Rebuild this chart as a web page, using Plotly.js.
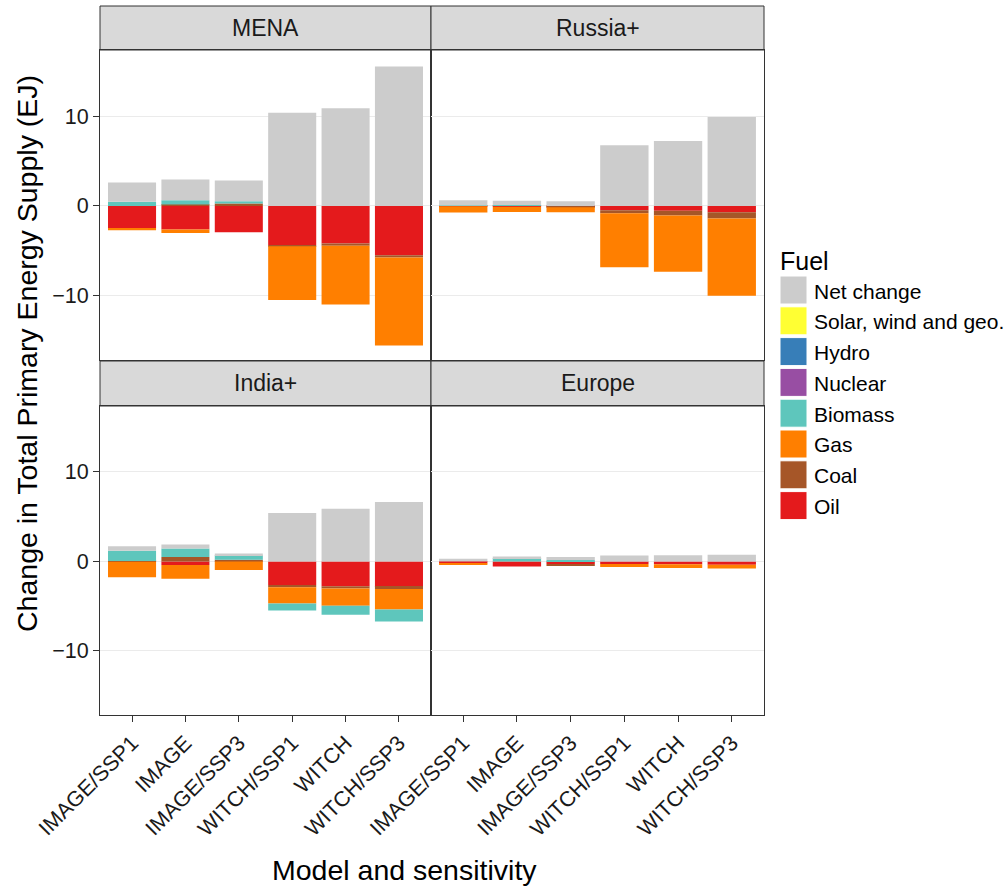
<!DOCTYPE html>
<html>
<head>
<meta charset="utf-8">
<script src="https://cdn.plot.ly/plotly-3.0.1.min.js"></script>
<style>html,body{margin:0;padding:0;background:#fff;}#chart{width:1006px;height:886px;}</style>
</head>
<body>
<div id="chart"></div>
<script>
// ---- Data ----
const models = ['IMAGE/SSP1', 'IMAGE', 'IMAGE/SSP3', 'WITCH/SSP1', 'WITCH', 'WITCH/SSP3'];
const regions = ['MENA', 'Russia+', 'India+', 'Europe'];
const fuels = ['Net change', 'Solar, wind and geo.', 'Hydro', 'Nuclear', 'Biomass', 'Gas', 'Coal', 'Oil'];
const fuelColors = ['#CCCCCC', '#FFFF33', '#377EB8', '#984EA3', '#5EC6BC', '#FF7F00', '#A65628', '#E41A1C'];

const menaOil     = [-2.50, -2.62, -2.92, -4.37, -4.18, -5.48];
const menaCoal    = [0, 0.15, 0.27, -0.13, -0.26, -0.26];
const menaGas     = [-0.22, -0.41, 0, -5.98, -6.52, -9.81];
const menaBiomass = [0.45, 0.48, 0.25, 0, 0, 0];
const menaNet     = [2.15, 2.30, 2.30, 10.38, 10.86, 15.52];

const russiaOil     = [-0.05, -0.10, -0.10, -0.48, -0.55, -0.70];
const russiaCoal    = [0, 0, -0.05, -0.33, -0.52, -0.70];
const russiaGas     = [-0.68, -0.57, -0.55, -6.03, -6.26, -8.60];
const russiaBiomass = [0.05, 0.10, 0, 0, 0, 0];
const russiaNet     = [0.58, 0.46, 0.52, 6.74, 7.22, 9.89];

const indiaOil     = [-0.05, -0.41, 0, -2.63, -2.78, -2.85];
const indiaCoal    = [0.05, 0.48, 0.19, -0.26, -0.26, -0.22];
const indiaGas     = [-1.73, -1.52, -0.96, -1.81, -1.92, -2.30];
const indiaBiomass = [1.14, 0.96, 0.51, -0.78, -1.00, -1.33];
const indiaNet     = [0.51, 0.45, 0.19, 5.41, 5.89, 6.63];

const europeOil     = [-0.20, -0.56, -0.30, -0.30, -0.33, -0.37];
const europeCoal    = [0, 0, -0.18, 0, 0, 0];
const europeGas     = [-0.13, 0, 0, -0.33, -0.41, -0.41];
const europeBiomass = [0, 0.37, 0.15, 0, 0, 0];
const europeNet     = [0.30, 0.19, 0.33, 0.67, 0.70, 0.74];

const yTicks = [-10, 0, 10];

// ---- Build traces ----
const regionData = {
  'MENA':    {'Oil': menaOil, 'Coal': menaCoal, 'Gas': menaGas, 'Biomass': menaBiomass, 'Net change': menaNet},
  'Russia+': {'Oil': russiaOil, 'Coal': russiaCoal, 'Gas': russiaGas, 'Biomass': russiaBiomass, 'Net change': russiaNet},
  'India+':  {'Oil': indiaOil, 'Coal': indiaCoal, 'Gas': indiaGas, 'Biomass': indiaBiomass, 'Net change': indiaNet},
  'Europe':  {'Oil': europeOil, 'Coal': europeCoal, 'Gas': europeGas, 'Biomass': europeBiomass, 'Net change': europeNet}
};
const stackOrder = fuels.slice().reverse(); // Oil first (closest to zero)
const traces = [];
regions.forEach((reg, ri) => {
  const ax = ri === 0 ? '' : String(ri + 1);
  stackOrder.forEach(f => {
    const vals = regionData[reg][f];
    if (!vals) return;
    traces.push({
      type: 'bar', x: models, y: vals, name: f,
      xaxis: 'x' + ax, yaxis: 'y' + ax,
      width: 0.9,
      marker: {color: fuelColors[fuels.indexOf(f)], line: {width: 0}},
      showlegend: false,
      hovertemplate: reg + ' · ' + f + '<br>%{x}: %{y} EJ<extra></extra>'
    });
  });
});

// ---- Layout geometry (pixels -> paper) ----
const W = 1006, H = 886, ML = 100, MR = 242, MT = 6, MB = 171;
const PW = W - ML - MR, PH = H - MT - MB;
const px = v => (v - ML) / PW;
const py = v => (H - MB - v) / PH;

const xd1 = [0, px(431)], xd2 = [px(431), 1];
const yTop = [py(360), py(50)], yBot = [0, py(406)];
const yr = [-17.15, 17.35];
const txtCol = '#1a1a1a';
const fam = 'Liberation Sans, Arial, Helvetica, sans-serif';

function xAxis(domain, anchor, showLabels) {
  return {
    domain: domain, anchor: anchor, type: 'category', range: [-0.6, 5.6],
    showgrid: false, zeroline: false, showline: true, mirror: true,
    linecolor: '#333333', linewidth: 1,
    ticks: showLabels ? 'outside' : '', ticklen: 6, tickcolor: '#333333', tickwidth: 1,
    showticklabels: showLabels, tickangle: -45,
    tickfont: {family: fam, size: 21.5, color: txtCol}
  };
}
function yAxis(domain, anchor, showLabels) {
  return {
    domain: domain, anchor: anchor, range: yr, tickvals: yTicks,
    showgrid: true, gridcolor: '#EBEBEB', gridwidth: 1.3, zeroline: false,
    showline: true, mirror: true, linecolor: '#333333', linewidth: 1,
    ticks: showLabels ? 'outside' : '', ticklen: 6, tickcolor: '#333333', tickwidth: 1,
    showticklabels: showLabels,
    tickfont: {family: fam, size: 21.5, color: txtCol}
  };
}

const shapes = [];
const annotations = [];
// strips
const strips = [
  {x: xd1, y: [py(50), 1]},
  {x: xd2, y: [py(50), 1]},
  {x: xd1, y: [py(406), py(361)]},
  {x: xd2, y: [py(406), py(361)]}
];
strips.forEach((s, i) => {
  shapes.push({type: 'rect', xref: 'paper', yref: 'paper', x0: s.x[0], x1: s.x[1], y0: s.y[0], y1: s.y[1],
    fillcolor: '#D9D9D9', line: {color: '#333333', width: 1}, layer: 'below'});
  annotations.push({xref: 'paper', yref: 'paper', x: (s.x[0] + s.x[1]) / 2, y: (s.y[0] + s.y[1]) / 2,
    text: regions[i], showarrow: false, xanchor: 'center', yanchor: 'middle',
    font: {family: fam, size: 23, color: txtCol}});
});

// axis titles
annotations.push({xref: 'paper', yref: 'paper', x: px(27), y: py(354), text: 'Change in Total Primary Energy Supply (EJ)',
  textangle: -90, showarrow: false, xanchor: 'center', yanchor: 'middle', font: {family: fam, size: 28.5, color: '#000'}});
annotations.push({xref: 'paper', yref: 'paper', x: px(404), y: py(870), text: 'Model and sensitivity',
  showarrow: false, xanchor: 'center', yanchor: 'middle', font: {family: fam, size: 28.5, color: '#000'}});

// legend (key boxes + labels)
annotations.push({xref: 'paper', yref: 'paper', x: px(778), y: py(261), text: 'Fuel', showarrow: false,
  xanchor: 'left', yanchor: 'middle', font: {family: fam, size: 25, color: '#000'}});
fuels.forEach((f, i) => {
  const top = 276 + 30.8 * i;
  shapes.push({type: 'rect', xref: 'paper', yref: 'paper', x0: px(780), x1: px(807), y0: py(top + 28), y1: py(top),
    fillcolor: fuelColors[i], line: {color: '#FFFFFF', width: 1}});
  annotations.push({xref: 'paper', yref: 'paper', x: px(812), y: py(top + 15), text: f, showarrow: false,
    xanchor: 'left', yanchor: 'middle', font: {family: fam, size: 21, color: '#000'}});
});

const layout = {
  width: W, height: H,
  margin: {l: ML, r: MR, t: MT, b: MB, pad: 0},
  paper_bgcolor: '#FFFFFF', plot_bgcolor: '#FFFFFF',
  barmode: 'relative', bargap: 0.1,
  showlegend: false,
  font: {family: fam, color: txtCol},
  xaxis:  xAxis(xd1, 'y', false),
  xaxis2: xAxis(xd2, 'y2', false),
  xaxis3: xAxis(xd1, 'y3', true),
  xaxis4: xAxis(xd2, 'y4', true),
  yaxis:  yAxis(yTop, 'x', true),
  yaxis2: yAxis(yTop, 'x2', false),
  yaxis3: yAxis(yBot, 'x3', true),
  yaxis4: yAxis(yBot, 'x4', false),
  shapes: shapes,
  annotations: annotations
};

Plotly.newPlot('chart', traces, layout, {displayModeBar: false, staticPlot: false});
</script>
</body>
</html>
